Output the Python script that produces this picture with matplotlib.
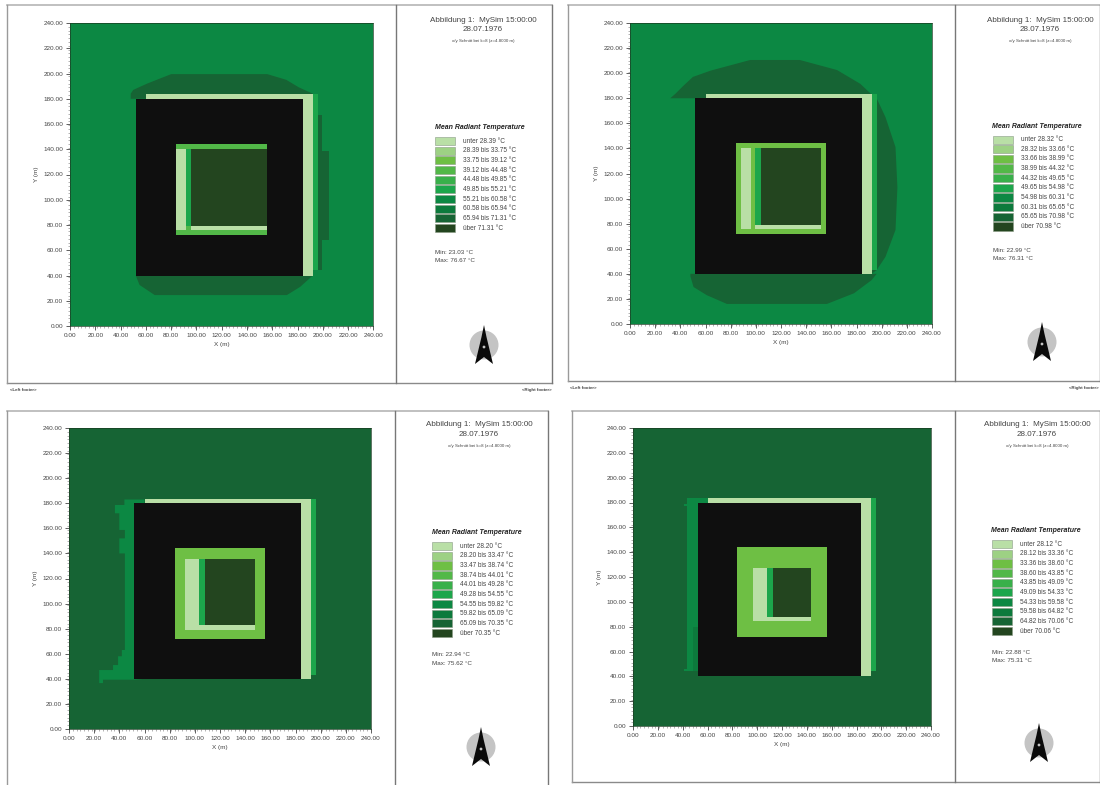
import matplotlib
matplotlib.use("Agg")
from matplotlib import pyplot as plt
from matplotlib.patches import Rectangle, Circle, Polygon

W, H = 1100, 785

# legend classes, light to dark
class_colors = ['#b9dfa6', '#9dd184', '#6ebf44', '#52b848', '#38b04a',
                '#1ca64b', '#0c8843', '#0c7a3c', '#166434', '#23451f']
building_color = '#0f0f0f'

ticks = [0, 20, 40, 60, 80, 100, 120, 140, 160, 180, 200, 220, 240]

# class limits per picture
breaks_1 = [28.39, 33.75, 39.12, 44.48, 49.85, 55.21, 60.58, 65.94, 71.31]
breaks_2 = [28.32, 33.66, 38.99, 44.32, 49.65, 54.98, 60.31, 65.65, 70.98]
breaks_3 = [28.20, 33.47, 38.74, 44.01, 49.28, 54.55, 59.82, 65.09, 70.35]
breaks_4 = [28.12, 33.36, 38.60, 43.85, 49.09, 54.33, 59.58, 64.82, 70.06]
min_max_1 = [23.03, 76.67]
min_max_2 = [22.99, 76.31]
min_max_3 = [22.94, 75.62]
min_max_4 = [22.88, 75.31]

# class of the open ground
ground_1 = 6
ground_2 = 6
ground_3 = 8
ground_4 = 8

# areas of another class on the ground: (class, outline points)
areas_1 = [
    (8, [(48, 180), (48, 184), (50, 187), (61, 192), (80, 199.5), (156, 199.5), (171, 195), (181, 189), (192, 184), (192, 180)]),
    (8, [(192, 167), (199, 167), (199, 139), (204.5, 139), (204.5, 68), (199, 68), (199, 44), (192, 44)]),
    (8, [(52, 40), (55, 32.5), (67, 24.5), (171.5, 24.5), (182, 31), (192, 40)]),
]
areas_2 = [
    (8, [(32, 180), (36, 183.5), (42.5, 190), (50, 197), (64, 202), (95.5, 210.5), (135, 210.5), (164.5, 202.5), (183, 191.5), (192, 183), (192, 180)]),
    (8, [(192, 183), (196, 180), (203, 165), (211, 141), (212.5, 109), (211, 75), (203, 53.5), (196, 43), (192, 40)]),
    (8, [(48, 40), (48, 38), (50.5, 29.5), (61, 23), (77, 16), (156.5, 16), (178, 24.5), (192, 35), (196, 40)]),
]
areas_3 = [
    (6, [(60, 183), (44, 183), (44, 178.6), (36.5, 178.6), (36.5, 172), (40, 172), (40, 158.7), (44.4, 158.7),
         (44.4, 152), (40, 152), (40, 140), (44.4, 140), (44.4, 63), (42, 63), (42, 58), (39, 58), (39, 51),
         (35, 51), (35, 47), (24, 47), (24, 36.6), (27, 36.6), (27, 39.3), (52, 39.3), (60, 40)]),
]
areas_4 = [
    (6, [(60, 184), (43.5, 184), (43.5, 179), (41, 179), (41, 177.5), (43.5, 177.5), (43.5, 46),
         (41, 46), (41, 44), (52, 44), (60, 44)]),
    (7, [(48, 80), (52, 80), (52, 44), (48, 44)]),
]

# rectangles: (class, x0, x1, y0, y1), later ones on top, -1 is building
boxes_1 = [
    (0, 60, 192, 180, 183.5), (5, 192, 196, 44, 183.5), (0, 184, 192, 40, 183.5),
    (-1, 52, 184, 40, 180),
    (3, 84, 156, 72, 144), (0, 84, 92, 76, 140), (5, 92, 96, 79, 140),
    (0, 96, 156, 76, 79), (9, 96, 156, 79, 140),
]
boxes_2 = [
    (0, 60, 192, 180, 183), (5, 192, 196, 43, 183), (0, 184, 192, 40, 183),
    (-1, 52, 184, 40, 180),
    (2, 84, 156, 72, 144), (0, 88, 96, 76, 140), (2, 96, 99.5, 76, 140), (5, 99.5, 104, 79, 140),
    (0, 99.5, 152, 76, 79), (9, 104, 152, 79, 140),
]
boxes_3 = [
    (0, 60, 192, 180, 183), (5, 192, 196, 43, 183), (0, 184, 192, 40, 183),
    (-1, 52, 184, 40, 180),
    (2, 84, 156, 72, 144), (0, 92.5, 103.5, 79, 135.5), (5, 103.5, 108, 83, 135.5),
    (0, 103.5, 148, 79, 83), (9, 108, 148, 83, 135.5),
]
boxes_4 = [
    (0, 60, 192, 180, 184), (5, 192, 196, 44, 184), (0, 184, 192, 40, 184),
    (-1, 52, 184, 40, 180),
    (2, 84, 156, 72, 144), (0, 96.5, 108, 84.5, 127.5), (5, 108, 112.5, 88, 127.5),
    (0, 108, 143.5, 84.5, 88), (9, 112.5, 143.5, 88, 127.5),
]

# pixel layout of the four sheets
sheets = [
    dict(ax=(70, 373.5, 23, 326), frame=(7, 396, 552, 5, 383), head=483, head_y=20, leg_x=435, leg_t=480, leg_y=127.5,
         swatch0=137, mm_y=252, north=(484, 345), foot_l=(10, 390), foot_r=(522, 390),
         breaks=breaks_1, mm=min_max_1, ground=ground_1, areas=areas_1, boxes=boxes_1),
    dict(ax=(630, 932, 23, 324), frame=(568, 955, 1100, 5, 381), head=1040, head_y=20, leg_x=993, leg_t=1037, leg_y=127,
         swatch0=135.5, mm_y=250, north=(1042, 342), foot_l=(570, 388), foot_r=(1069, 388),
         breaks=breaks_2, mm=min_max_2, ground=ground_2, areas=areas_2, boxes=boxes_2),
    dict(ax=(69, 371, 428, 729), frame=(7, 395, 548, 411, 786), head=479, head_y=425, leg_x=432, leg_t=477, leg_y=532,
         swatch0=542, mm_y=655, north=(481, 747), foot_l=None, foot_r=None,
         breaks=breaks_3, mm=min_max_3, ground=ground_3, areas=areas_3, boxes=boxes_3),
    dict(ax=(633, 931, 428, 726), frame=(572, 955, 1100, 411, 782), head=1037, head_y=425, leg_x=992, leg_t=1036, leg_y=531,
         swatch0=540, mm_y=652, north=(1039, 743), foot_l=None, foot_r=None,
         breaks=breaks_4, mm=min_max_4, ground=ground_4, areas=areas_4, boxes=boxes_4),
]

text_color = '#444444'
plt.rcParams['font.family'] = ['Liberation Sans', 'DejaVu Sans']

fig = plt.figure(figsize=(W / 100, H / 100), dpi=100, facecolor='white')

# overlay for frames and legends, in pixels
page = fig.add_axes([0, 0, 1, 1], zorder=0)
page.set_xlim(0, W)
page.set_ylim(H, 0)
page.axis('off')

for s in sheets:
    left, right, top, bottom = s['ax']
    ax = fig.add_axes([left / W, 1 - bottom / H, (right - left) / W, (bottom - top) / H], zorder=1)
    ax.set_xlim(0, 240)
    ax.set_ylim(0, 240)
    ax.set_facecolor(class_colors[s['ground']])
    for cls, pts in s['areas']:
        ax.add_patch(Polygon(pts, closed=True, fc=class_colors[cls], ec='none'))
    for cls, x0, x1, y0, y1 in s['boxes']:
        color = building_color if cls < 0 else class_colors[cls]
        ax.add_patch(Rectangle((x0, y0), x1 - x0, y1 - y0, fc=color, ec='none'))

    ax.set_xticks(ticks)
    ax.set_yticks(ticks)
    ax.set_xticks(range(0, 241, 3), minor=True)
    ax.set_yticks(range(0, 241, 3), minor=True)
    labels = ['%.2f' % t for t in ticks]
    ax.set_xticklabels(labels)
    ax.set_yticklabels(labels)
    ax.tick_params(which='major', length=3, width=0.6, color='#444444', labelsize=4.6,
                   labelcolor=text_color, pad=2)
    ax.tick_params(which='minor', length=1.2, width=0.4, color='#777777')
    for sp in ax.spines.values():
        sp.set_linewidth(0.5)
        sp.set_color('#1a3d22')
    ax.set_xlabel('X (m)', fontsize=4.6, color=text_color, labelpad=3)
    ax.set_ylabel('Y (m)', fontsize=4.6, color=text_color, labelpad=3)

    # frame of the sheet
    fl, fm, fr, ft, fb = s['frame']
    page.plot([fl, fr], [ft, ft], color='#b5b5b5', lw=1.2)
    page.plot([fl, fr], [fb, fb], color='#8a8a8a', lw=1.0)
    page.plot([fl, fl], [ft, fb], color='#9a9a9a', lw=1.0)
    page.plot([fm, fm], [ft, fb], color='#777777', lw=1.0)
    page.plot([fr, fr], [ft, fb], color='#777777', lw=1.0)

    # heading
    page.text(s['head'], s['head_y'], 'Abbildung 1:  MySim 15:00:00', ha='center', va='center',
              fontsize=5.8, color=text_color)
    page.text(s['head'], s['head_y'] + 9.5, '28.07.1976', ha='center', va='center',
              fontsize=5.8, color=text_color)
    page.text(s['head'], s['head_y'] + 21, 'x/y Schnitt bei k=8 (z=4.8000 m)', ha='center', va='center',
              fontsize=3.2, color=text_color)

    # legend
    page.text(s['leg_t'], s['leg_y'], 'Mean Radiant Temperature', ha='center', va='center',
              fontsize=5, style='italic', weight='bold', color='#222222')
    b = s['breaks']
    rows = ['unter %.2f °C' % b[0]]
    rows += ['%.2f bis %.2f °C' % (b[i], b[i + 1]) for i in range(len(b) - 1)]
    rows += ['über %.2f °C' % b[-1]]
    for i, row in enumerate(rows):
        y = s['swatch0'] + i * 9.65
        page.add_patch(Rectangle((s['leg_x'], y), 20, 8.2, fc=class_colors[i], ec='#8a9a85', lw=0.4))
        page.text(s['leg_x'] + 28, y + 4.2, row, ha='left', va='center', fontsize=4.7, color=text_color)
    page.text(s['leg_x'], s['mm_y'], 'Min: %.2f °C' % s['mm'][0], ha='left', va='center',
              fontsize=4.5, color=text_color)
    page.text(s['leg_x'], s['mm_y'] + 8.8, 'Max: %.2f °C' % s['mm'][1], ha='left', va='center',
              fontsize=4.5, color=text_color)

    # north arrow
    nx, ny = s['north']
    page.add_patch(Circle((nx, ny), 14.5, fc='#c4c4c4', ec='none'))
    page.add_patch(Polygon([(nx, ny - 20), (nx + 2.5, ny - 8), (nx + 9, ny + 19), (nx, ny + 12),
                            (nx - 9, ny + 19), (nx - 2.5, ny - 8)],
                           closed=True, fc='#0a0a0a', ec='none'))
    page.add_patch(Circle((nx, ny + 2), 1.4, fc='#c4c4c4', ec='none'))

    # footers
    if s['foot_l']:
        page.text(s['foot_l'][0], s['foot_l'][1], '<Left footer>', ha='left', va='center',
                  fontsize=3.2, weight='bold', color=text_color)
        page.text(s['foot_r'][0], s['foot_r'][1], '<Right footer>', ha='left', va='center',
                  fontsize=3.2, weight='bold', color=text_color)

fig.savefig('out.png', dpi=100, facecolor='white')
